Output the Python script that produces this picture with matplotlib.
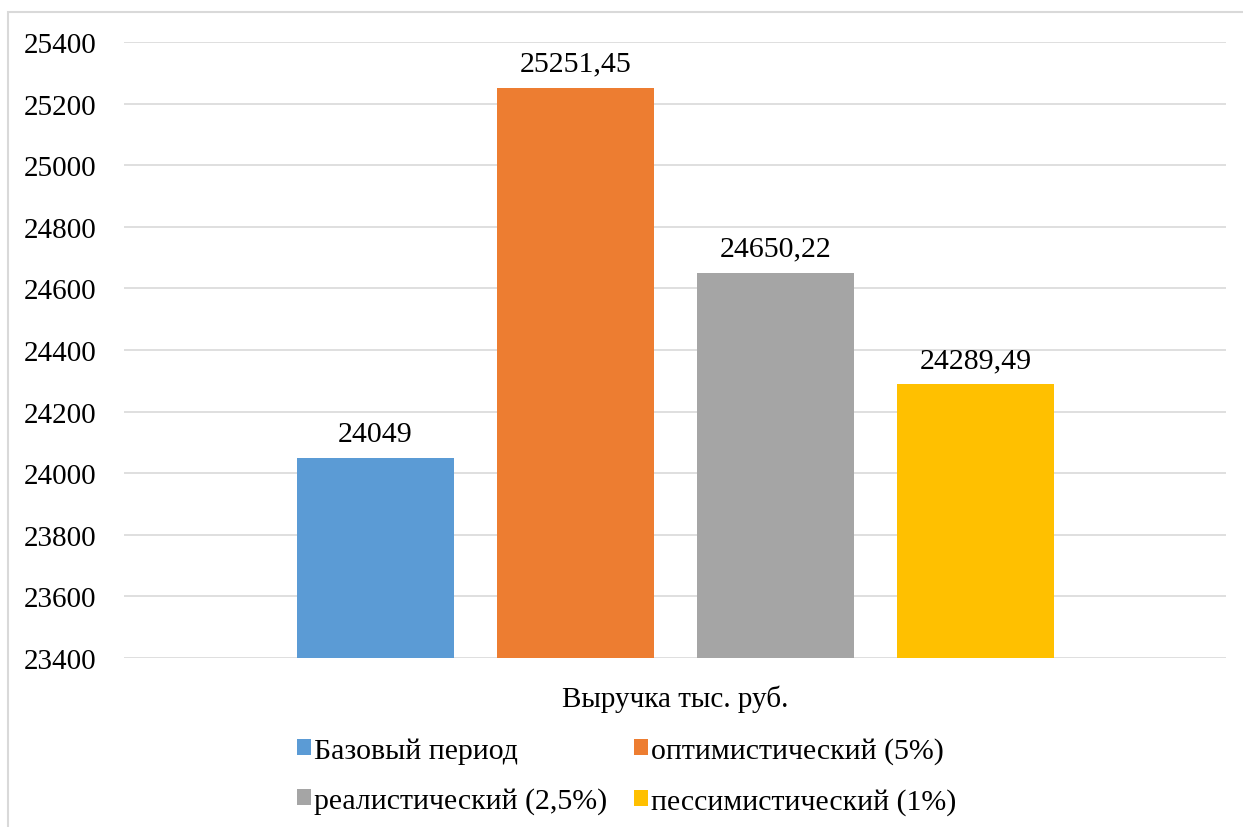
import matplotlib.pyplot as plt
from matplotlib.patches import Rectangle, Patch

series = ["Базовый период", "оптимистический (5%)",
          "реалистический (2,5%)", "пессимистический (1%)"]
values = [24049, 25251.45, 24650.22, 24289.49]
value_labels = ["24049", "25251,45", "24650,22", "24289,49"]
colors = ["#5B9BD5", "#ED7D31", "#A5A5A5", "#FFC000"]
category = "Выручка тыс. руб."
yticks = [23400, 23600, 23800, 24000, 24200, 24400, 24600, 24800, 25000, 25200, 25400]

plt.rcParams["font.family"] = ["Liberation Serif", "DejaVu Serif"]
plt.rcParams["font.size"] = 21

fig = plt.figure(figsize=(12.43, 8.28), dpi=100)
fig.patches.append(Rectangle((8 / 1243, -0.1), 1.2, 1.1 - 13 / 828,
                             transform=fig.transFigure, fill=False,
                             edgecolor="#d9d9d9", linewidth=1.5))

ax = fig.add_axes([124 / 1243, 1 - 659 / 828, 1102 / 1243, 616 / 828])
x = list(range(len(values)))
ax.bar(x, [v - yticks[0] for v in values], bottom=yticks[0], width=0.785,
       color=colors, zorder=3)
for xi, v, lab in zip(x, values, value_labels):
    ax.annotate(lab, (xi, v), xytext=(0, 8), textcoords="offset points",
                ha="center", va="bottom", fontsize=21.5)

ax.set_ylim(yticks[0], yticks[-1])
ax.set_yticks(yticks)
ax.set_xlim(-1.2575, 4.2525)
ax.set_xticks([1.5])
ax.set_xticklabels([category])
ax.tick_params(axis="x", length=0, pad=19)
ax.tick_params(axis="y", length=0, pad=20)
ax.grid(axis="y", color="#d9d9d9", linewidth=1.2, zorder=0)
for s in ax.spines.values():
    s.set_visible(False)

# legend is filled column by column, so order entries to read row by row
order = [0, 2, 1, 3]
handles = [Patch(facecolor=colors[i], edgecolor="none") for i in order]
labels = [series[i] for i in order]
fig.legend(handles, labels, ncol=2, loc="center",
           bbox_to_anchor=(627 / 1243, 1 - 777 / 828), frameon=False,
           handlelength=0.45, handleheight=0.45, handletextpad=0.12,
           columnspacing=0.9, labelspacing=0.78, fontsize=21.5)

fig.savefig("out.png", dpi=100)
